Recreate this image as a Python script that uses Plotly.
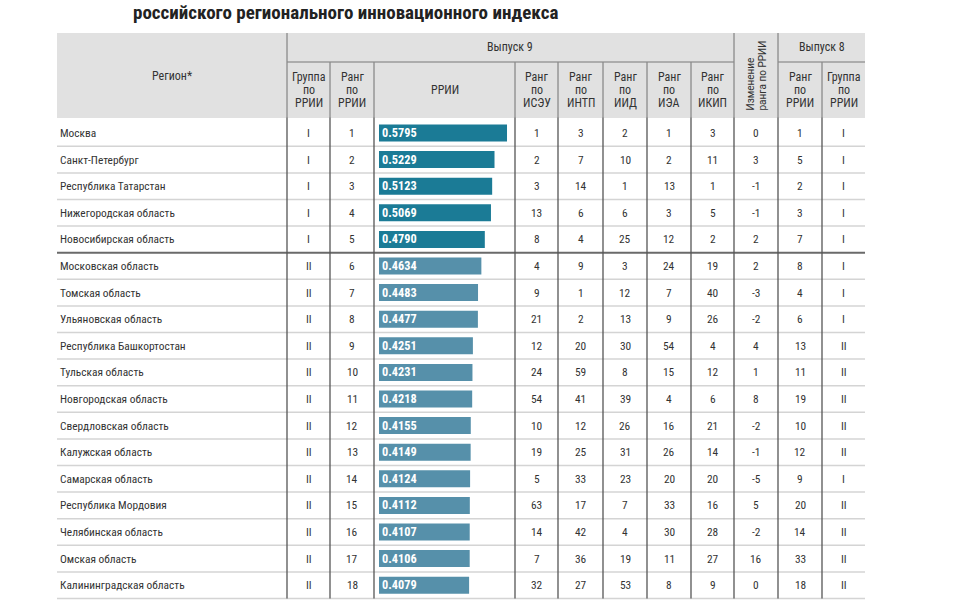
import plotly.graph_objects as go

# data
regions = ["Москва", "Санкт-Петербург", "Республика Татарстан", "Нижегородская область",
           "Новосибирская область", "Московская область", "Томская область", "Ульяновская область",
           "Республика Башкортостан", "Тульская область", "Новгородская область",
           "Свердловская область", "Калужская область", "Самарская область",
           "Республика Мордовия", "Челябинская область", "Омская область",
           "Калининградская область"]
group9 = ["I", "I", "I", "I", "I", "II", "II", "II", "II", "II", "II", "II", "II", "II", "II", "II", "II", "II"]
rank9 = [1, 2, 3, 4, 5, 6, 7, 8, 9, 10, 11, 12, 13, 14, 15, 16, 17, 18]
rrii = [0.5795, 0.5229, 0.5123, 0.5069, 0.4790, 0.4634, 0.4483, 0.4477, 0.4251,
        0.4231, 0.4218, 0.4155, 0.4149, 0.4124, 0.4112, 0.4107, 0.4106, 0.4079]
rank_isey = [1, 2, 3, 13, 8, 4, 9, 21, 12, 24, 54, 10, 19, 5, 63, 14, 7, 32]
rank_intp = [3, 7, 14, 6, 4, 9, 1, 2, 20, 59, 41, 12, 25, 33, 17, 42, 36, 27]
rank_iid = [2, 10, 1, 6, 25, 3, 12, 13, 30, 8, 39, 26, 31, 23, 7, 4, 19, 53]
rank_iea = [1, 2, 13, 3, 12, 24, 7, 9, 54, 15, 4, 16, 26, 20, 33, 30, 11, 8]
rank_ikip = [3, 11, 1, 5, 2, 19, 40, 26, 4, 12, 6, 21, 14, 20, 16, 28, 27, 9]
rank_change = [0, 3, -1, -1, 2, 2, -3, -2, 4, 1, 8, -2, -1, -5, 5, -2, 16, 0]
rank8 = [1, 5, 2, 3, 7, 8, 4, 6, 13, 11, 19, 10, 12, 9, 20, 14, 33, 18]
group8 = ["I", "I", "I", "I", "I", "I", "I", "I", "II", "II", "II", "II", "II", "I", "II", "II", "II", "II"]

# page geometry in screen pixels (body margin is removed after plotting)
W, H = 975, 604
ROW_H = 26.6
FIRST_ROW = 133          # y of first row centre
BAR_X0 = 379             # x where rrii = 0
PX_PER_UNIT = 220.9

FONT = "Roboto Condensed, Liberation Sans Narrow, Roboto, sans-serif"
TXT = "#333333"
colors = {"I": "#1b7b96", "II": "#5690aa"}

rows = list(range(len(regions)))


def py(p):
    # screen y -> paper y
    return 1 - p / H


fig = go.Figure()

# RRII bars
fig.add_trace(go.Bar(
    x=rrii, y=rows, orientation="h", xaxis="x2",
    width=0.64,
    marker=dict(color=[colors[g] for g in group9], line=dict(width=0)),
    text=[f"{v:.4f}" for v in rrii],
    textposition="inside", insidetextanchor="start", constraintext="none",
    textfont=dict(color="white", size=12.3, family=FONT, weight="bold"),
    hoverinfo="skip",
))

shapes = []
ann = []

# header background
shapes.append(dict(type="rect", xref="x", yref="paper", x0=57, x1=865, y0=py(118), y1=py(33),
                    fillcolor="#e1e1e1", line_width=0, layer="below"))
# header sub line
for a, b in [(287, 734), (778, 865)]:
    shapes.append(dict(type="line", xref="x", yref="paper", x0=a, x1=b, y0=py(62), y1=py(62),
                       line=dict(color="#9a9a9a", width=1.5)))

# row separators
for k in range(len(regions)):
    yb = k + 0.5
    thick = (k == 4)
    shapes.append(dict(type="line", xref="x", yref="y", x0=57, x1=865, y0=yb, y1=yb,
                       line=dict(color="#6a6a6a" if thick else "#d4d4d4", width=2 if thick else 1.5)))

# vertical column lines
col_edges_full = [287, 734, 778]
col_edges_sub = [330, 374, 515, 558, 603, 647, 691, 822]
ybot = len(regions) - 0.5
for x in col_edges_full:
    shapes.append(dict(type="line", xref="x", yref="paper", x0=x, x1=x, y0=py(33), y1=py(118),
                       line=dict(color="#8a8a8a", width=1.3)))
    shapes.append(dict(type="line", xref="x", yref="y", x0=x, x1=x, y0=-0.57, y1=ybot,
                       line=dict(color="#555555", width=1.3)))
for x in col_edges_sub:
    shapes.append(dict(type="line", xref="x", yref="paper", x0=x, x1=x, y0=py(62), y1=py(118),
                       line=dict(color="#8a8a8a", width=1.3)))
    shapes.append(dict(type="line", xref="x", yref="y", x0=x, x1=x, y0=-0.57, y1=ybot,
                       line=dict(color="#555555", width=1.3)))

# header texts
hfont = dict(family=FONT, size=12, color=TXT)


def hdr(x, y, text, **kw):
    kw.setdefault("xanchor", "center")
    kw.setdefault("yanchor", "middle")
    ann.append(dict(xref="x", yref="paper", x=x, y=py(y), text=text, showarrow=False,
                    font=kw.pop("font", hfont), **kw))


def hdr3(x, lines):
    for j, t in enumerate(lines):
        hdr(x, 77 + 13 * j, t)


hdr(172, 76, "Регион*")
hdr(510, 47, "Выпуск 9")
hdr(822, 47, "Выпуск 8")
hdr3(308.5, ["Группа", "по", "РРИИ"])
hdr3(352, ["Ранг", "по", "РРИИ"])
hdr(444.5, 90, "РРИИ")
for x, lab in [(536.5, "ИСЭУ"), (580.5, "ИНТП"), (625, "ИИД"), (669, "ИЭА"), (712.5, "ИКИП")]:
    hdr3(x, ["Ранг", "по", lab])
hdr3(800, ["Ранг", "по", "РРИИ"])
hdr3(843.5, ["Группа", "по", "РРИИ"])
rot_font = dict(family="Roboto, sans-serif", size=10, color=TXT)
hdr(750, 113, "Изменение", textangle=-90, yanchor="bottom", font=rot_font)
hdr(761.5, 113, "ранга по РРИИ", textangle=-90, yanchor="bottom", font=rot_font)

# title
hdr(132, 0, "<b>российского регионального инновационного индекса</b>", xanchor="left",
    yanchor="top", borderpad=0, font=dict(family=FONT, size=19, color="#222222"))

# body cells
bfont = dict(family=FONT, size=11.4, color=TXT)
columns = [
    (308.5, group9), (352, rank9), (536.5, rank_isey), (580.5, rank_intp), (625, rank_iid),
    (669, rank_iea), (712.5, rank_ikip), (756, rank_change), (800, rank8), (843.5, group8),
]
for i in rows:
    ann.append(dict(xref="x", yref="y", x=58, y=i, text=regions[i], xanchor="left",
                    yanchor="middle", showarrow=False, font=bfont))
    for x, vals in columns:
        ann.append(dict(xref="x", yref="y", x=x, y=i, text=str(vals[i]), xanchor="center",
                        yanchor="middle", showarrow=False, font=bfont))

fig.update_layout(
    width=W, height=H,
    margin=dict(l=0, r=0, t=0, b=0),
    paper_bgcolor="white", plot_bgcolor="white",
    showlegend=False,
    xaxis=dict(range=[0, W], visible=False, fixedrange=True),
    xaxis2=dict(range=[-BAR_X0 / PX_PER_UNIT, (W - BAR_X0) / PX_PER_UNIT],
                overlaying="x", visible=False, fixedrange=True),
    yaxis=dict(range=[(H - FIRST_ROW) / ROW_H, -FIRST_ROW / ROW_H],
               visible=False, fixedrange=True),
    shapes=shapes,
    annotations=ann,
)

fig.write_html("out.html", config={"displayModeBar": False},
               post_script="document.body.style.margin='0px';")
